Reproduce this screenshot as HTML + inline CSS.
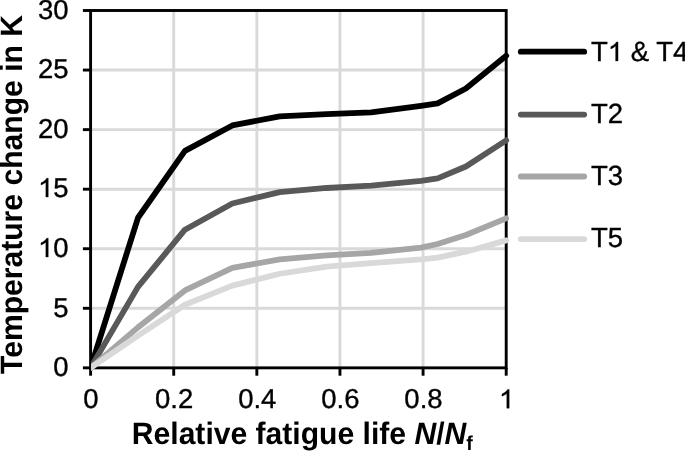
<!DOCTYPE html>
<html><head><meta charset="utf-8"><style>
html,body{margin:0;padding:0;background:#fff;}
body{width:685px;height:451px;overflow:hidden;}
svg{display:block;font-family:"Liberation Sans",sans-serif;filter:grayscale(100%) blur(0.45px);text-rendering:geometricPrecision;}
</style></head><body>
<svg width="685" height="451" viewBox="0 0 685 451">
<rect width="685" height="451" fill="#fff"/>
<line x1="173.72" y1="10.50" x2="173.72" y2="367.85" stroke="#d9d9d9" stroke-width="2.9"/>
<line x1="256.84" y1="10.50" x2="256.84" y2="367.85" stroke="#d9d9d9" stroke-width="2.9"/>
<line x1="339.96" y1="10.50" x2="339.96" y2="367.85" stroke="#d9d9d9" stroke-width="2.9"/>
<line x1="423.08" y1="10.50" x2="423.08" y2="367.85" stroke="#d9d9d9" stroke-width="2.9"/>
<line x1="90.60" y1="308.29" x2="506.20" y2="308.29" stroke="#d9d9d9" stroke-width="2.9"/>
<line x1="90.60" y1="248.73" x2="506.20" y2="248.73" stroke="#d9d9d9" stroke-width="2.9"/>
<line x1="90.60" y1="189.18" x2="506.20" y2="189.18" stroke="#d9d9d9" stroke-width="2.9"/>
<line x1="90.60" y1="129.62" x2="506.20" y2="129.62" stroke="#d9d9d9" stroke-width="2.9"/>
<line x1="90.60" y1="70.06" x2="506.20" y2="70.06" stroke="#d9d9d9" stroke-width="2.9"/>
<rect x="90.60" y="10.50" width="415.60" height="357.35" fill="none" stroke="#000" stroke-width="2.9"/>
<line x1="82.9" y1="367.85" x2="90.60" y2="367.85" stroke="#000" stroke-width="2.9"/>
<line x1="82.9" y1="308.29" x2="90.60" y2="308.29" stroke="#000" stroke-width="2.9"/>
<line x1="82.9" y1="248.73" x2="90.60" y2="248.73" stroke="#000" stroke-width="2.9"/>
<line x1="82.9" y1="189.18" x2="90.60" y2="189.18" stroke="#000" stroke-width="2.9"/>
<line x1="82.9" y1="129.62" x2="90.60" y2="129.62" stroke="#000" stroke-width="2.9"/>
<line x1="82.9" y1="70.06" x2="90.60" y2="70.06" stroke="#000" stroke-width="2.9"/>
<line x1="82.9" y1="10.50" x2="90.60" y2="10.50" stroke="#000" stroke-width="2.9"/>
<line x1="90.60" y1="367.85" x2="90.60" y2="375.7" stroke="#000" stroke-width="2.9"/>
<line x1="173.72" y1="367.85" x2="173.72" y2="375.7" stroke="#000" stroke-width="2.9"/>
<line x1="256.84" y1="367.85" x2="256.84" y2="375.7" stroke="#000" stroke-width="2.9"/>
<line x1="339.96" y1="367.85" x2="339.96" y2="375.7" stroke="#000" stroke-width="2.9"/>
<line x1="423.08" y1="367.85" x2="423.08" y2="375.7" stroke="#000" stroke-width="2.9"/>
<line x1="506.20" y1="367.85" x2="506.20" y2="375.7" stroke="#000" stroke-width="2.9"/>
<defs><clipPath id="cl"><rect x="90.9" y="0" width="600" height="451"/></clipPath></defs><g clip-path="url(#cl)">
<polyline points="90.60,367.85 137.98,217.76 184.94,150.82 232.32,125.45 279.70,116.28 326.66,114.13 371.13,112.34 421.00,105.79 437.63,103.41 465.89,88.52 506.20,55.76" fill="none" stroke="#000000" stroke-width="5.8" stroke-linejoin="round" stroke-linecap="round"/>
<polyline points="90.60,367.85 137.98,286.85 184.94,229.67 232.32,203.47 279.70,192.15 326.66,187.98 371.13,185.60 421.00,180.84 437.63,178.45 465.89,166.54 506.20,140.34" fill="none" stroke="#595959" stroke-width="5.8" stroke-linejoin="round" stroke-linecap="round"/>
<polyline points="90.60,367.85 137.98,327.35 184.94,290.42 232.32,267.79 279.70,259.45 326.66,255.28 371.13,252.90 421.00,247.54 437.63,243.97 465.89,235.03 506.20,218.36" fill="none" stroke="#a6a6a6" stroke-width="5.8" stroke-linejoin="round" stroke-linecap="round"/>
<polyline points="90.60,367.85 137.98,335.69 184.94,304.72 232.32,285.66 279.70,273.75 326.66,266.60 371.13,263.03 421.00,259.45 437.63,257.67 465.89,251.71 506.20,240.40" fill="none" stroke="#d9d9d9" stroke-width="5.8" stroke-linejoin="round" stroke-linecap="round"/>
</g>
<text transform="translate(53.31,376.00) scale(1,0.995)" font-size="27.5" stroke="#000" stroke-width="0.35" xml:space="preserve">0</text>
<text transform="translate(53.31,317.00) scale(1,0.995)" font-size="27.5" stroke="#000" stroke-width="0.35" xml:space="preserve">5</text>
<path transform="translate(38.01,257.00) scale(0.01343,-0.01284)" d="M763 0L583 0L583 1147Q518 1085 412.5 1023Q307 961 223 930L223 1104Q374 1175 484.5 1274Q595 1373 646 1466L763 1466Z" stroke="#000" stroke-width="26.1"/><text transform="translate(53.31,257.00) scale(1,0.995)" font-size="27.5" stroke="#000" stroke-width="0.35" xml:space="preserve">0</text>
<path transform="translate(38.01,197.00) scale(0.01343,-0.01284)" d="M763 0L583 0L583 1147Q518 1085 412.5 1023Q307 961 223 930L223 1104Q374 1175 484.5 1274Q595 1373 646 1466L763 1466Z" stroke="#000" stroke-width="26.1"/><text transform="translate(53.31,197.00) scale(1,0.995)" font-size="27.5" stroke="#000" stroke-width="0.35" xml:space="preserve">5</text>
<text transform="translate(38.01,138.00) scale(1,0.995)" font-size="27.5" stroke="#000" stroke-width="0.35" xml:space="preserve">20</text>
<text transform="translate(38.01,78.00) scale(1,0.995)" font-size="27.5" stroke="#000" stroke-width="0.35" xml:space="preserve">25</text>
<text transform="translate(38.01,19.00) scale(1,0.995)" font-size="27.5" stroke="#000" stroke-width="0.35" xml:space="preserve">30</text>
<text transform="translate(83.35,408.20) scale(1,0.995)" font-size="27.5" stroke="#000" stroke-width="0.35" xml:space="preserve">0</text>
<text transform="translate(155.01,408.20) scale(1,0.995)" font-size="27.5" stroke="#000" stroke-width="0.35" xml:space="preserve">0.2</text>
<text transform="translate(238.13,408.20) scale(1,0.995)" font-size="27.5" stroke="#000" stroke-width="0.35" xml:space="preserve">0.4</text>
<text transform="translate(321.25,408.20) scale(1,0.995)" font-size="27.5" stroke="#000" stroke-width="0.35" xml:space="preserve">0.6</text>
<text transform="translate(404.37,408.20) scale(1,0.995)" font-size="27.5" stroke="#000" stroke-width="0.35" xml:space="preserve">0.8</text>
<path transform="translate(498.95,408.20) scale(0.01343,-0.01284)" d="M763 0L583 0L583 1147Q518 1085 412.5 1023Q307 961 223 930L223 1104Q374 1175 484.5 1274Q595 1373 646 1466L763 1466Z" stroke="#000" stroke-width="26.1"/>
<text transform="translate(131.8,443.8) scale(1,1.03)" font-size="30.1" font-weight="bold">Relative fatigue life <tspan font-style="italic">N</tspan>/<tspan font-style="italic">N</tspan><tspan font-size="19.6" dy="6">f</tspan></text>
<text transform="translate(21.9,374) rotate(-90) scale(1,1.025)" font-size="30.1" font-weight="bold">Temperature change in K</text>
<line x1="520.8" y1="51.7" x2="584.2" y2="51.7" stroke="#000000" stroke-width="5.8" stroke-linecap="round"/>
<text transform="translate(591.00,61.00) scale(1,1.009925)" font-size="27.5" stroke="#000" stroke-width="0.35" xml:space="preserve">T</text><path transform="translate(607.80,61.00) scale(0.01343,-0.01303)" d="M763 0L583 0L583 1147Q518 1085 412.5 1023Q307 961 223 930L223 1104Q374 1175 484.5 1274Q595 1373 646 1466L763 1466Z" stroke="#000" stroke-width="26.1"/><text transform="translate(623.09,61.00) scale(1,1.009925)" font-size="27.5" stroke="#000" stroke-width="0.35" xml:space="preserve"> &amp; T4</text>
<line x1="520.8" y1="114.6" x2="584.2" y2="114.6" stroke="#595959" stroke-width="5.8" stroke-linecap="round"/>
<text transform="translate(591.00,123.00) scale(1,1.009925)" font-size="27.5" stroke="#000" stroke-width="0.35" xml:space="preserve">T2</text>
<line x1="520.8" y1="176.5" x2="584.2" y2="176.5" stroke="#a6a6a6" stroke-width="5.8" stroke-linecap="round"/>
<text transform="translate(591.00,185.00) scale(1,1.009925)" font-size="27.5" stroke="#000" stroke-width="0.35" xml:space="preserve">T3</text>
<line x1="520.8" y1="239.1" x2="584.2" y2="239.1" stroke="#d9d9d9" stroke-width="5.8" stroke-linecap="round"/>
<text transform="translate(591.00,247.00) scale(1,1.009925)" font-size="27.5" stroke="#000" stroke-width="0.35" xml:space="preserve">T5</text>
</svg>
</body></html>
